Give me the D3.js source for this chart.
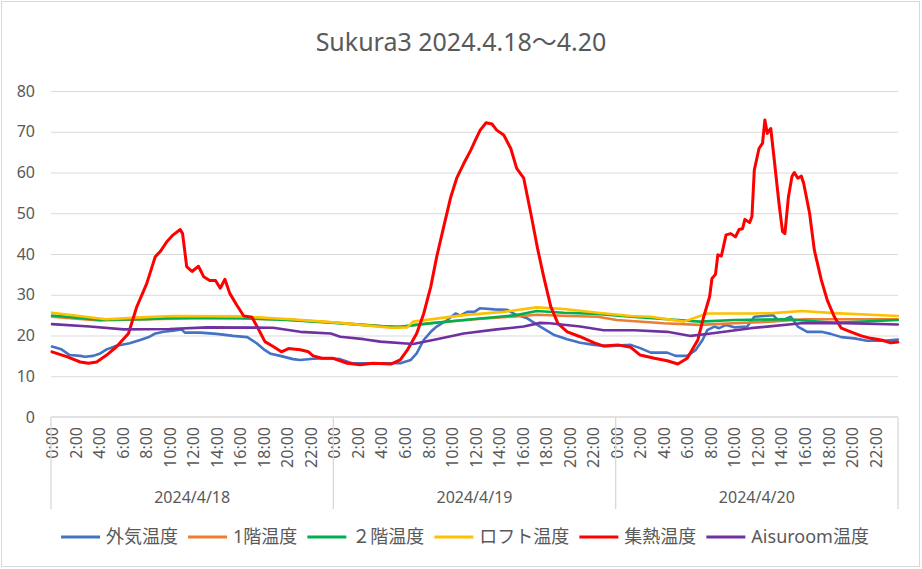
<!DOCTYPE html>
<html>
<head>
<meta charset="utf-8">
<script src="https://cdn.jsdelivr.net/npm/d3@7"></script>
<style>
	body { margin: 0; background: #fff; }
	text { font-family: "Noto Sans", "Noto Sans CJK JP", sans-serif; fill: #595959; }
</style>
</head>
<body>
<svg id="chart" width="922" height="569"></svg>
<script>
var chartTitle = 'Sukura3 2024.4.18～4.20';
var days = ['2024/4/18', '2024/4/19', '2024/4/20'];
var hourLabels = ['0:00', '2:00', '4:00', '6:00', '8:00', '10:00', '12:00', '14:00', '16:00', '18:00', '20:00', '22:00'];
var yTicks = [0, 10, 20, 30, 40, 50, 60, 70, 80];

// [hours since 4/18 0:00, temperature]
var outsideTemp = [[0,17.3],[0.8,16.6],[1.5,15.2],[2.4,15],[2.8,14.8],[3.5,15],[4.1,15.6],[4.65,16.6],[5.5,17.5],[6.6,18.1],[7.5,18.9],[8.3,19.7],[8.8,20.5],[9.5,20.9],[10.3,21.2],[11,21.5],[11.3,20.7],[12.6,20.7],[14,20.4],[15.4,19.9],[16.6,19.6],[17.4,18.1],[18,16.6],[18.6,15.5],[19.4,15],[20.5,14.2],[21.1,14],[22.2,14.3],[23.4,14.4],[24.5,14.2],[25.5,13.2],[29.6,13.2],[30.5,14],[31,15.6],[31.6,18.9],[32.2,20.9],[32.7,22.2],[33.6,23.8],[34.3,25.4],[34.7,24.9],[35.3,25.8],[35.9,25.8],[36.4,26.7],[37.6,26.4],[38.7,26.3],[39.3,25.3],[40.4,24.2],[41.5,22.2],[42.7,20.1],[43.8,19.1],[44.9,18.2],[46.1,17.7],[47.2,17.4],[49.2,17.7],[50,16.9],[50.9,15.8],[52.3,15.8],[53,15],[54,15],[54.7,16.4],[55.3,18.9],[55.7,21.3],[56.3,22.2],[56.7,21.8],[57.3,22.6],[58,22],[59.1,22.2],[59.7,24.6],[60.5,24.8],[61.3,25],[61.7,23.8],[62.2,23.9],[62.8,24.6],[63.4,22.2],[64.2,20.9],[65.4,20.9],[66.2,20.4],[67.1,19.6],[68.2,19.3],[69.3,18.7],[70.7,18.7],[71.9,19]];
var floor1Temp = [[0,24.6],[4,23.7],[8,24],[12,24.2],[16,24.2],[20,23.9],[24,23.2],[28,22.3],[30,22.2],[32,23],[36,24],[40,24.8],[41.2,25.1],[44,24.8],[46.4,24.6],[48,23.8],[52,23],[55,22.6],[58,23],[61,23.4],[64,24],[68,24],[71.9,24]];
var floor2Temp = [[0,24.9],[4,23.9],[8,24],[11,24.4],[16,24.3],[20,23.8],[24,23.1],[29.3,22],[30.9,22.6],[35,23.8],[39.5,25],[41.2,26],[43.5,25.6],[46.4,25.3],[49.2,24.6],[52.3,24],[55.1,23.4],[58,23.8],[62.5,24],[66.5,23.1],[71.9,23.8]];
var loftTemp = [[0,25.6],[4.6,24],[8,24.5],[10.3,24.8],[16,24.7],[20.3,24],[24.5,23.1],[28.8,21.9],[30.2,22],[30.7,23.4],[35,25],[38.4,25.8],[41.2,26.9],[43.5,26.5],[46.4,25.6],[49.2,24.8],[50.9,24.6],[53.7,23.4],[55.7,25.4],[59.4,25.4],[61.3,25.5],[63.7,26],[66.5,25.5],[71.9,24.8]];
var collectorTemp = [[0,16],[1.25,14.8],[2.4,13.5],[3.1,13.2],[3.8,13.5],[4.65,15.2],[5.5,17.3],[6.5,20.5],[7.2,27],[8.06,32.8],[8.77,39.3],[9.2,40.6],[9.76,43],[10.3,44.7],[10.9,46],[11.1,45],[11.45,36.9],[11.9,35.7],[12.45,37],[12.9,34.4],[13.4,33.5],[13.9,33.5],[14.3,31.6],[14.7,33.8],[15.1,30.4],[15.7,27.5],[16.3,24.8],[17,24.5],[17.6,21.3],[18.1,18.5],[18.8,17.3],[19.5,16],[20.1,16.8],[21.1,16.5],[21.8,16],[22.2,15],[22.95,14.4],[23.9,14.4],[25.1,13.2],[26.2,12.8],[27.3,13.2],[28.8,13],[29.6,14],[30.2,16.4],[31,20.5],[31.6,25.4],[32.2,32],[32.7,39.3],[33.3,46.7],[33.9,54],[34.4,58.6],[35,62.2],[35.6,65.5],[36,68],[36.4,70.4],[36.9,72.2],[37.4,71.9],[37.8,70.4],[38.4,69.2],[39,65.9],[39.5,61],[40.1,58.6],[40.7,50],[41.3,41],[41.8,34.4],[42.4,27.1],[43,23],[43.8,20.9],[44.9,19.7],[46.1,18.2],[46.9,17.4],[48.1,17.7],[49.2,17.1],[50,15.2],[51.2,14.4],[52.3,13.8],[53.2,13],[54,14.4],[54.9,18.9],[55.4,24.6],[55.9,29.5],[56.1,34],[56.4,35],[56.6,39.8],[56.9,39.5],[57.3,44.7],[57.7,45],[58.1,44.2],[58.4,46],[58.7,46.2],[58.9,48.5],[59.3,47.7],[59.5,49.2],[59.7,60.6],[60.1,65.9],[60.4,67.2],[60.6,72.9],[60.8,69.6],[61.1,70.8],[61.4,63],[61.8,52.4],[62.1,45.5],[62.3,45],[62.6,54],[62.9,59],[63.1,60],[63.4,58.6],[63.7,59.1],[63.9,57.3],[64.4,50],[64.8,41],[65.4,33.6],[65.9,28.7],[66.5,24.6],[67.1,21.8],[67.9,20.9],[68.8,19.9],[69.6,19.3],[70.5,18.9],[71.3,18.2],[71.9,18.4]];
var aisuroomTemp = [[0,22.8],[3.2,22.2],[6.1,21.5],[10,21.6],[13.2,22],[18.8,21.9],[21.1,20.9],[23.7,20.5],[24.5,19.7],[26.5,19.1],[27.9,18.5],[30.7,17.9],[32.7,19.1],[35,20.5],[37.8,21.5],[40.1,22.2],[41.5,23.1],[42.3,23],[44.9,22.2],[46.9,21.3],[49.5,21.3],[52.3,20.9],[54.3,19.9],[56,20.5],[59.4,21.8],[63.7,23],[66.5,23.1],[71.9,22.7]];

var seriesNames = ['外気温度', '1階温度', '２階温度', 'ロフト温度', '集熱温度', 'Aisuroom温度'];
var seriesData = [outsideTemp, floor1Temp, floor2Temp, loftTemp, collectorTemp, aisuroomTemp];
var seriesColors = ['#4472C4', '#ED7D31', '#00B050', '#FFC000', '#FF0000', '#7030A0'];

function drawChart() {
	var svg = d3.select('#chart');
	var plot = { left: 51, right: 898, top: 91, bottom: 417 };

	// outer chart border
	svg.append('rect').attr('x', 1.5).attr('y', 1.5).attr('width', 918).attr('height', 565)
		.attr('fill', '#fff').attr('stroke', '#D9D9D9');

	svg.append('text').attr('x', 461).attr('y', 51).attr('text-anchor', 'middle')
		.style('font-size', '25px').text(chartTitle);

	var x = d3.scaleLinear().domain([0, days.length * 24]).range([plot.left + 1, plot.right + 1]);
	var y = d3.scaleLinear().domain([0, 80]).range([plot.bottom, plot.top]);
	var dayBand = d3.scaleBand().domain(days).range([plot.left, plot.right]);

	// horizontal gridlines + y labels
	var yAxis = svg.append('g').attr('transform', 'translate(' + plot.left + ',0)')
		.call(d3.axisLeft(y).tickValues(yTicks).tickSize(-(plot.right - plot.left)).tickPadding(16));
	yAxis.select('.domain').remove();
	yAxis.selectAll('line').attr('stroke', '#D9D9D9');
	yAxis.selectAll('text').style('font-size', '16px').attr('fill', '#595959');
	yAxis.selectAll('.tick').filter(function (d) { return d === 0; }).select('line').remove();

	// hour labels
	var hourTicks = [];
	days.forEach(function (day, di) {
		hourLabels.forEach(function (lbl, li) { hourTicks.push({ h: di * 24 + li * 2, label: lbl }); });
	});
	var xAxis = svg.append('g').attr('transform', 'translate(0,' + plot.bottom + ')')
		.call(d3.axisBottom(x).tickValues(hourTicks.map(function (t) { return t.h; }))
			.tickFormat(function (d, i) { return hourTicks[i].label; }).tickSize(0));
	xAxis.select('.domain').remove();
	xAxis.selectAll('text')
		.style('font-size', '16px').attr('fill', '#595959')
		.attr('text-anchor', 'end').attr('dy', '0.35em').attr('y', 0)
		.attr('transform', 'translate(0,10) rotate(-90)');

	// category axis box and day separators
	var axisLines = svg.append('g').attr('stroke', '#D9D9D9').attr('stroke-width', 1.3);
	axisLines.append('line').attr('x1', plot.left).attr('x2', plot.right)
		.attr('y1', plot.bottom).attr('y2', plot.bottom);
	days.concat(['end']).forEach(function (d, i) {
		var xx = i < days.length ? dayBand(d) : plot.right;
		axisLines.append('line').attr('x1', xx).attr('x2', xx).attr('y1', plot.bottom).attr('y2', 509);
	});
	svg.append('g').selectAll('text').data(days).join('text')
		.attr('x', function (d) { return dayBand(d) + dayBand.bandwidth() / 2; })
		.attr('y', 503).attr('text-anchor', 'middle').style('font-size', '16px')
		.text(function (d) { return d; });

	// series lines, last one on top like Excel
	var line = d3.line().x(function (d) { return x(d[0]); }).y(function (d) { return y(d[1]); });
	seriesData.forEach(function (data, i) {
		svg.append('path').datum(data).attr('d', line)
			.attr('fill', 'none').attr('stroke', seriesColors[i])
			.attr('stroke-width', i === 4 ? 3 : 2.6)
			.attr('stroke-linejoin', 'round').attr('stroke-linecap', 'round');
	});

	// legend, centered below the axis
	var legend = svg.append('g');
	var cursor = 0;
	seriesNames.forEach(function (name, i) {
		var item = legend.append('g').attr('transform', 'translate(' + cursor + ',0)');
		item.append('line').attr('x1', 0).attr('x2', 39).attr('y1', 0).attr('y2', 0)
			.attr('stroke', seriesColors[i]).attr('stroke-width', 3);
		var t = item.append('text').attr('x', 45).attr('y', 0).attr('dy', '0.35em')
			.style('font-size', '18px').text(name);
		cursor += 45 + t.node().getComputedTextLength() + 10;
	});
	legend.attr('transform', 'translate(' + (465 - (cursor - 10) / 2) + ',537)');
}

drawChart();
</script>
</body>
</html>
